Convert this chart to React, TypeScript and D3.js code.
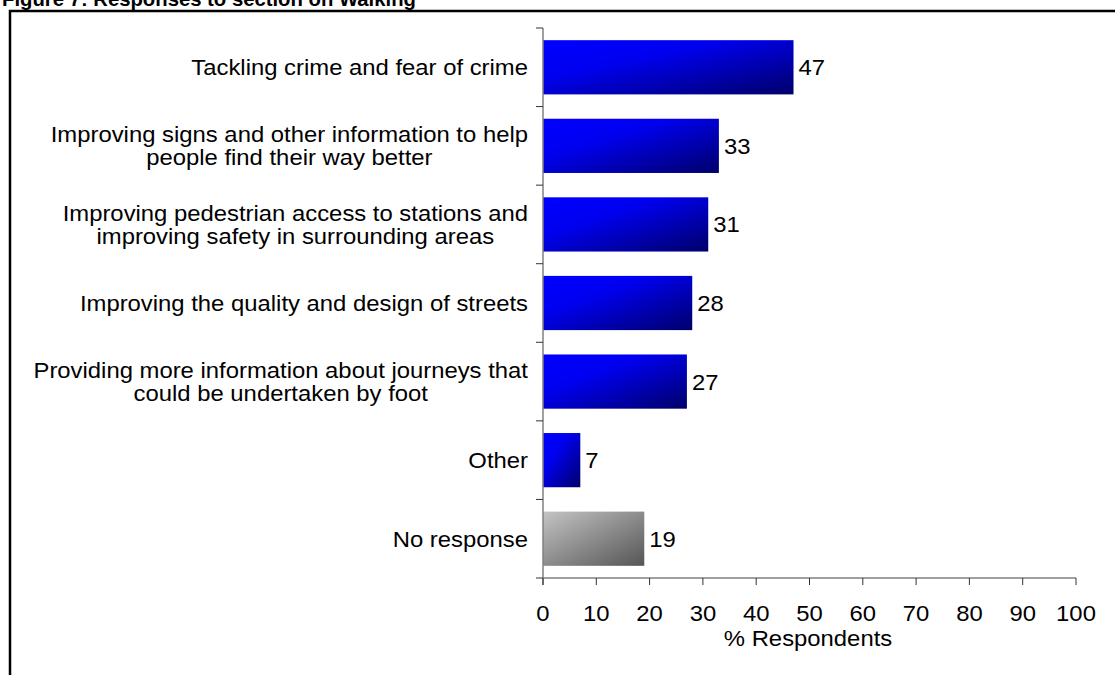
import React, { useEffect, useRef } from "react";
import * as d3 from "d3";

const title = "Figure 7: Responses to section on Walking";
const categories: string[][] = [
  ["Tackling crime and fear of crime"],
  ["Improving signs and other information to help", "people find their way better"],
  ["Improving pedestrian access to stations and", "improving safety in surrounding areas"],
  ["Improving the quality and design of streets"],
  ["Providing more information about journeys that", "could be undertaken by foot"],
  ["Other"],
  ["No response"],
];
const values: number[] = [47, 33, 31, 28, 27, 7, 19];
const isNoResponse: boolean[] = [false, false, false, false, false, false, true];
const xTicks: number[] = [0, 10, 20, 30, 40, 50, 60, 70, 80, 90, 100];
const xTitle = "% Respondents";

const W = 1115;
const H = 675;
const FONT = "'Liberation Sans', Arial, sans-serif";
const FS = 22.2;
const SX = 1.075;

export default function App() {
  const ref = useRef<SVGSVGElement | null>(null);

  useEffect(() => {
    const svg = d3.select(ref.current);
    svg.selectAll("*").remove();

    const defs = svg.append("defs");
    const gb = defs.append("linearGradient").attr("id", "gBlue")
      .attr("x1", 0).attr("y1", 0).attr("x2", 1).attr("y2", 1);
    gb.append("stop").attr("offset", "0%").attr("stop-color", "#0000ff");
    gb.append("stop").attr("offset", "35%").attr("stop-color", "#0000f0");
    gb.append("stop").attr("offset", "100%").attr("stop-color", "#00006a");
    const gg = defs.append("linearGradient").attr("id", "gGray")
      .attr("x1", 0).attr("y1", 0).attr("x2", 1).attr("y2", 1);
    gg.append("stop").attr("offset", "0%").attr("stop-color", "#c4c4c4");
    gg.append("stop").attr("offset", "100%").attr("stop-color", "#555555");

    svg.append("rect").attr("x", 0).attr("y", 0).attr("width", W).attr("height", H).attr("fill", "#fff");

    const txt = (parent: any, x: number, y: number, s: string, anchor = "start", dy = "0") =>
      parent.append("text")
        .attr("transform", `translate(${x},${y}) scale(${SX},1)`)
        .attr("dy", dy)
        .attr("text-anchor", anchor)
        .attr("font-family", FONT).attr("font-size", FS).attr("fill", "#000")
        .text(s);

    // title (partially cut off at top)
    svg.append("text").attr("x", 2).attr("y", 6)
      .attr("font-family", FONT).attr("font-weight", "bold").attr("font-size", 20.3)
      .attr("fill", "#000").text(title);

    // frame
    svg.append("path").attr("d", `M10,${H + 5} L10,11 L${W + 5},11`)
      .attr("fill", "none").attr("stroke", "#000").attr("stroke-width", 2.5);

    const x = d3.scaleLinear().domain([0, 100]).range([543, 1076]);
    const idx = categories.map((_, i) => String(i));
    const y = d3.scaleBand<string>().domain(idx).range([28, 578]).paddingInner(0.31).paddingOuter(0.155);

    // bars
    svg.append("g").selectAll("rect").data(values).join("rect")
      .attr("x", x(0))
      .attr("y", (_, i) => y(String(i))!)
      .attr("width", (d) => x(d) - x(0))
      .attr("height", y.bandwidth())
      .attr("fill", (_, i) => (isNoResponse[i] ? "url(#gGray)" : "url(#gBlue)"));

    // value labels
    const vg = svg.append("g");
    values.forEach((v, i) => {
      txt(vg, x(v) + 5, y(String(i))! + y.bandwidth() / 2, String(v), "start", "0.36em");
    });

    // axes
    const axisColor = "#808080";
    const step = y.step();
    svg.append("line").attr("x1", x(0)).attr("x2", x(0)).attr("y1", 28).attr("y2", 585)
      .attr("stroke", axisColor).attr("stroke-width", 1.5);
    svg.append("line").attr("x1", x(0)).attr("x2", x(100)).attr("y1", 578).attr("y2", 578)
      .attr("stroke", axisColor).attr("stroke-width", 1.5);
    const yTickPos = d3.range(0, categories.length + 1).map((k) => 28 + k * step);
    svg.append("g").selectAll("line").data(yTickPos).join("line")
      .attr("x1", x(0) - 7).attr("x2", x(0)).attr("y1", (d) => d).attr("y2", (d) => d)
      .attr("stroke", "#333").attr("stroke-width", 1);
    svg.append("g").selectAll("line").data(xTicks).join("line")
      .attr("x1", (d) => x(d)).attr("x2", (d) => x(d)).attr("y1", 578).attr("y2", 585)
      .attr("stroke", "#333").attr("stroke-width", 1);
    const tg = svg.append("g");
    xTicks.forEach((t) => txt(tg, x(t), 621, String(t), "middle"));
    txt(svg, 808, 646, xTitle, "middle");

    // category labels: block right-aligned at 528, lines centered within block
    const labelRight = 528;
    const lineH = 23;
    categories.forEach((lines, i) => {
      const cy = y(String(i))! + y.bandwidth() / 2;
      const g = svg.append("g");
      const texts = lines.map((ln) =>
        g.append("text")
          .attr("text-anchor", "middle")
          .attr("dy", "0.36em")
          .attr("font-family", FONT).attr("font-size", FS).attr("fill", "#000")
          .text(ln)
      );
      const widths = texts.map((t) => (t.node() as SVGTextElement).getComputedTextLength() * SX);
      const maxW = Math.max(...widths);
      texts.forEach((t, k) => {
        const ly = cy + (k - (lines.length - 1) / 2) * lineH;
        t.attr("transform", `translate(${labelRight - maxW / 2},${ly}) scale(${SX},1)`);
      });
    });
  }, []);

  return (
    <svg ref={ref} width={W} height={H} style={{ display: "block", position: "absolute", left: 0, top: 0 }} />
  );
}
